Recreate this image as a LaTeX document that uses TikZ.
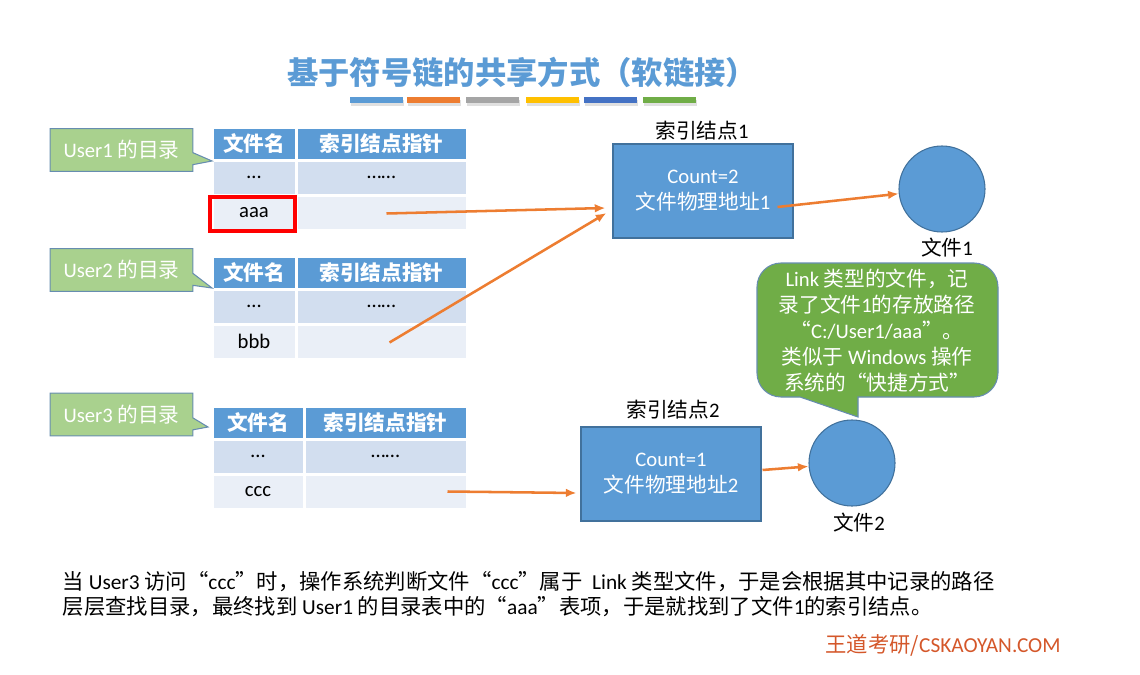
\documentclass[tikz,border=0pt]{standalone}
\usepackage{fontspec}
\setmainfont{Noto Sans CJK SC}
\newfontfamily\en{Carlito}
\usetikzlibrary{calc,shapes,arrows.meta}

\definecolor{hdblue}{HTML}{5B9BD5}
\definecolor{edgeblue}{HTML}{41719C}
\definecolor{rowa}{HTML}{D2DEEF}
\definecolor{rowb}{HTML}{EAEFF7}
\definecolor{ugreen}{HTML}{A9D18E}
\definecolor{bgreen}{HTML}{70AD47}
\definecolor{arrorange}{HTML}{ED7D31}
\definecolor{barblue}{HTML}{4472C4}
\definecolor{bargray}{HTML}{A5A5A5}
\definecolor{baryellow}{HTML}{FFC000}
\definecolor{wmred}{HTML}{D4572A}

\begin{document}
\begin{tikzpicture}[x=0.75pt,y=-0.75pt,
  txt/.style={font=\fontsize{15.5}{19.5}\selectfont},
  cell/.style={draw=white,line width=2.25pt},
  hd/.style={text=white,font=\fontsize{15.5}{19.5}\selectfont\bfseries},
  lbl/.style={txt,inner sep=1pt},
  inode/.style={txt,draw=edgeblue,fill=hdblue,text=white,line width=0.8pt,
    minimum width=135pt,minimum height=70.5pt,align=center},
  fnode/.style={circle,draw=edgeblue,fill=hdblue,line width=0.8pt,minimum size=64.5pt,inner sep=0pt},
  ucall/.style={rectangle callout,draw=edgeblue!80,fill=ugreen,text=white,txt,line width=0.8pt,
    minimum width=107pt,minimum height=32pt,callout pointer width=9pt},
  link/.style={draw=arrorange,line width=1.9pt,-{Latex[length=8pt,width=6.5pt]}},
  hilite/.style={draw=red,line width=2.6pt}]

  %% page of the slide
  \useasboundingbox (0,0) rectangle (1140,675);

  %% Title and the coloured bars
  \node[text=hdblue,font=\fontsize{23.5}{28}\selectfont\bfseries] (TITLE) at (522,72) {基于符号链的共享方式（软链接）};
  \foreach \x/\c in {350/hdblue,407/arrorange,466/bargray,526/baryellow,584/barblue,643/bgreen}
  {
    \fill[black!12] (\x+1,100) rectangle (\x+54,106);
    \fill[\c] (\x,97) rectangle (\x+53,103);
  }

  %% Directory tables of the three users
  \foreach \t/\ty/\cx/\fn in {1/127/296/aaa,2/256/296/bbb,3/406/304/ccc}
  {
    \draw[cell,fill=hdblue] (212,\ty) rectangle (\cx,\ty+33);
    \draw[cell,fill=hdblue] (\cx,\ty) rectangle (467,\ty+33);
    \draw[cell,fill=rowa] (212,\ty+33) rectangle (\cx,\ty+68);
    \draw[cell,fill=rowa] (\cx,\ty+33) rectangle (467,\ty+68);
    \draw[cell,fill=rowb] (212,\ty+68) rectangle (\cx,\ty+103);
    \draw[cell,fill=rowb] (\cx,\ty+68) rectangle (467,\ty+103);
    \node[hd] (T\t-h1) at ($(212,\ty)!0.5!(\cx,\ty+33)$) {文件名};
    \node[hd] (T\t-h2) at ($(\cx,\ty)!0.5!(467,\ty+33)$) {索引结点指针};
    \node[txt] (T\t-n1) at ($(212,\ty+33)!0.5!(\cx,\ty+68)$) {\en …};
    \node[txt] (T\t-p1) at ($(\cx,\ty+33)!0.5!(467,\ty+68)$) {\en ……};
    \node[txt] (T\t-n2) at ($(212,\ty+68)!0.5!(\cx,\ty+103)$) {\en \fn};
    \node[inner sep=0pt] (T\t-p2) at ($(\cx,\ty+68)!0.5!(467,\ty+103)$) {};
  }
  \draw[hilite] (210,197) rectangle (295,231);

  %% Callouts naming the tables
  \node[ucall,callout absolute pointer={(212,161)}] (U1) at (121.5,150) {{\en User1} 的目录};
  \node[ucall,callout absolute pointer={(212,288)}] (U2) at (121.5,270) {{\en User2} 的目录};
  \node[ucall,callout absolute pointer={(208,427)}] (U3) at (121.5,414.5) {{\en User3} 的目录};

  %% Index nodes and files
  \node[lbl] (L1) at (702,131) {索引结点{\en 1}};
  \node[inode] (IN1) at (703,191) {{\en Count=2}\\文件物理地址{\en 1}};
  \node[fnode] (F1) at (942,189) {};
  \node[lbl] (F1L) at (947,248) {文件{\en 1}};

  \node[lbl] (L2) at (673,410) {索引结点{\en 2}};
  \node[inode] (IN2) at (671,474) {{\en Count=1}\\文件物理地址{\en 2}};
  \node[fnode] (F2) at (852,463) {};
  \node[lbl] (F2L) at (859,523) {文件{\en 2}};

  %% Speech bubble for the link file
  \draw[fill=bgreen,draw=edgeblue!80,line width=0.8pt] (800,397) -- (858,417) -- (858,397)
    [rounded corners=18] -- (998,397) -- (998,263) -- (757,263) -- (757,397) [sharp corners] -- cycle;
  \node[txt,text=white,align=center] (NOTE) at (877,331)
    {{\en Link} 类型的文件，记\\录了文件{\en 1}的存放路径\\“{\en C:/User1/aaa}”。\\类似于 {\en Windows} 操作\\系统的“快捷方式”};

  %% Pointers
  \draw[link] ($(T1-p2)+(5,1)$) -- ($(IN1.west)+(-7,17)$);
  \draw[link] ($(T2-p2)+(8,1)$) -- ($(IN1.west)+(-6,22)$);
  \draw[link] ($(IN1.east)+(-16,16)$) -- (F1);
  \draw[link] ($(T3-p2)+(62,0)$) -- ($(IN2.west)+(-4,19)$);
  \draw[link] ($(IN2.east)+(1,-4)$) -- (F2);

  %% Explanation below
  \node[anchor=west,font=\fontsize{16}{20}\selectfont] (N1) at (58,582)
    {当 {\en User3} 访问“{\en ccc}”时，操作系统判断文件“{\en ccc}”属于\ \ {\en Link} 类型文件，于是会根据其中记录的路径};
  \node[anchor=west,font=\fontsize{16}{20}\selectfont] (N2) at (58,607)
    {层层查找目录，最终找到 {\en User1} 的目录表中的“{\en aaa}”表项，于是就找到了文件{\en 1}的索引结点。};
  \node[text=wmred,font=\fontsize{16}{19}\selectfont] (WM) at (943,645) {王道考研/{\en CSKAOYAN.COM}};

\end{tikzpicture}
\end{document}
